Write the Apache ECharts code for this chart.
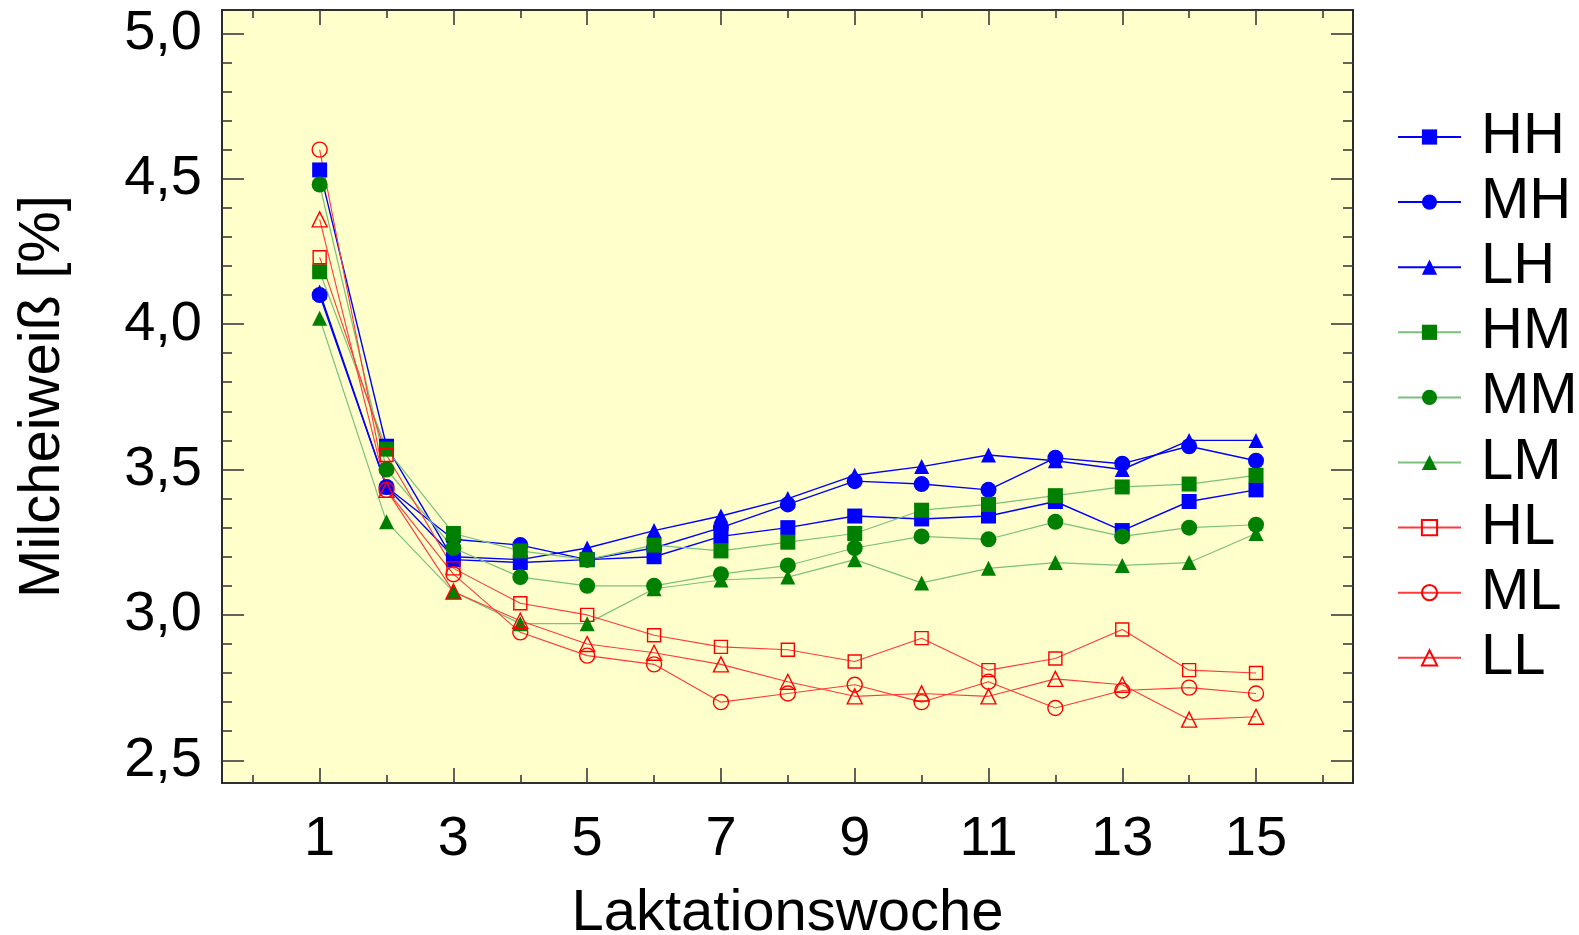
<!DOCTYPE html>
<html>
<head>
<meta charset="utf-8">
<script src="https://cdn.jsdelivr.net/npm/echarts@6/dist/echarts.min.js"></script>
<style>
  html, body { margin: 0; padding: 0; background: #ffffff; }
  #chart { width: 1579px; height: 935px; }
</style>
</head>
<body>
<div id="chart"></div>
<script>
// Laktationswochen 1–15
const weeks = [1, 2, 3, 4, 5, 6, 7, 8, 9, 10, 11, 12, 13, 14, 15];

// Milcheiweiß [%] je Gruppe
const HH = [4.53, 3.58, 3.19, 3.18, 3.19, 3.20, 3.27, 3.30, 3.34, 3.33, 3.34, 3.39, 3.29, 3.39, 3.43];
const MH = [4.10, 3.44, 3.26, 3.24, 3.19, 3.23, 3.30, 3.38, 3.46, 3.45, 3.43, 3.54, 3.52, 3.58, 3.53];
const LH = [4.11, 3.44, 3.20, 3.19, 3.23, 3.29, 3.34, 3.40, 3.48, 3.51, 3.55, 3.53, 3.50, 3.60, 3.60];
const HM = [4.18, 3.57, 3.28, 3.22, 3.19, 3.24, 3.22, 3.25, 3.28, 3.36, 3.38, 3.41, 3.44, 3.45, 3.48];
const MM = [4.48, 3.50, 3.23, 3.13, 3.10, 3.10, 3.14, 3.17, 3.23, 3.27, 3.26, 3.32, 3.27, 3.30, 3.31];
const LM = [4.02, 3.32, 3.08, 2.97, 2.97, 3.09, 3.12, 3.13, 3.19, 3.11, 3.16, 3.18, 3.17, 3.18, 3.28];
const HL = [4.23, 3.55, 3.16, 3.04, 3.00, 2.93, 2.89, 2.88, 2.84, 2.92, 2.81, 2.85, 2.95, 2.81, 2.80];
const ML = [4.60, 3.43, 3.14, 2.94, 2.86, 2.83, 2.70, 2.73, 2.76, 2.70, 2.77, 2.68, 2.74, 2.75, 2.73];
const LL = [4.36, 3.43, 3.08, 2.98, 2.90, 2.87, 2.83, 2.77, 2.72, 2.73, 2.72, 2.78, 2.76, 2.64, 2.65];

// Achsenbeschriftung
const xTickLabels = [1, 3, 5, 7, 9, 11, 13, 15];
const xMinorTicks = [0, 2, 4, 6, 8, 10, 12, 14, 16];
const yTickLabels = [2.5, 3.0, 3.5, 4.0, 4.5, 5.0];
const yMinorTicks = [2.6, 2.7, 2.8, 2.9, 3.1, 3.2, 3.3, 3.4, 3.6, 3.7, 3.8, 3.9, 4.1, 4.2, 4.3, 4.4, 4.6, 4.7, 4.8, 4.9];

const FONT = 'Liberation Sans, Arial, sans-serif';
const X_MIN = -0.46, X_MAX = 16.45;
const Y_MIN = 2.422, Y_MAX = 5.08;
const FRAME = '#222222';
const TICK = '#3a3a3a';

const BLUE = '#0000ff', GREEN = '#008000', RED = '#ff0000';
const GREEN_LINE = '#7cc07c', RED_LINE = '#ff3a3a';

function frameAxis(kind, position, ticks, len, withLabels) {
  const ax = {
    type: 'value',
    position: position,
    min: kind === 'x' ? X_MIN : Y_MIN,
    max: kind === 'x' ? X_MAX : Y_MAX,
    splitLine: { show: false },
    axisLine: { show: true, onZero: false, lineStyle: { color: FRAME, width: 1.6 } },
    axisTick: { show: true, inside: true, length: len, customValues: ticks, lineStyle: { color: TICK, width: 1.6 } },
    axisLabel: { show: false }
  };
  if (withLabels) {
    ax.axisLabel = {
      show: true,
      customValues: ticks,
      fontFamily: FONT,
      fontSize: 56,
      color: '#000',
      margin: kind === 'x' ? 29 : 20,
      formatter: kind === 'x' ? (v) => String(v) : (v) => v.toFixed(1).replace('.', ',')
    };
  }
  return ax;
}

const xMain = frameAxis('x', 'bottom', xTickLabels, 15, true);
xMain.name = 'Laktationswoche';
xMain.nameLocation = 'middle';
xMain.nameGap = 102;
xMain.nameTextStyle = { fontFamily: FONT, fontSize: 58, color: '#000' };

const yMain = frameAxis('y', 'left', yTickLabels, 22, true);
yMain.name = 'Milcheiweiß [%]';
yMain.nameLocation = 'middle';
yMain.nameGap = 150;
yMain.nameRotate = 90;
yMain.nameTextStyle = { fontFamily: FONT, fontSize: 58, color: '#000' };

const xAxes = [
  xMain,
  frameAxis('x', 'bottom', xMinorTicks, 8, false),
  frameAxis('x', 'top', xTickLabels, 15, false),
  frameAxis('x', 'top', xMinorTicks, 8, false)
];
const yAxes = [
  yMain,
  frameAxis('y', 'left', yMinorTicks, 10, false),
  frameAxis('y', 'right', yTickLabels, 22, false),
  frameAxis('y', 'right', yMinorTicks, 10, false)
];

function mkSeries(name, values, symbol, size, color, lineColor, lineWidth, hollow) {
  return {
    name: name,
    type: 'line',
    xAxisIndex: 0,
    yAxisIndex: 0,
    data: weeks.map((w, i) => [w, values[i]]),
    symbol: symbol,
    symbolSize: size,
    showAllSymbol: true,
    animation: false,
    lineStyle: { color: lineColor, width: lineWidth },
    itemStyle: hollow
      ? { color: 'rgba(0,0,0,0)', borderColor: color, borderWidth: 1.4 }
      : { color: color, borderWidth: 0 },
    emphasis: { disabled: true }
  };
}

const series = [
  mkSeries('HH', HH, 'rect', 15, BLUE, BLUE, 1.4, false),
  mkSeries('MH', MH, 'circle', 16, BLUE, BLUE, 1.4, false),
  mkSeries('LH', LH, 'triangle', [15, 15], BLUE, BLUE, 1.4, false),
  mkSeries('HM', HM, 'rect', 15, GREEN, GREEN_LINE, 1.2, false),
  mkSeries('MM', MM, 'circle', 16, GREEN, GREEN_LINE, 1.2, false),
  mkSeries('LM', LM, 'triangle', [15, 15], GREEN, GREEN_LINE, 1.2, false),
  mkSeries('HL', HL, 'rect', 13, RED, RED_LINE, 1.1, true),
  mkSeries('ML', ML, 'circle', 15, RED, RED_LINE, 1.1, true),
  mkSeries('LL', LL, 'triangle', [15, 15], RED, RED_LINE, 1.1, true)
];

const chart = echarts.init(document.getElementById('chart'), null, { renderer: 'canvas' });
chart.setOption({
  animation: false,
  backgroundColor: '#ffffff',
  grid: {
    left: 222, top: 10, width: 1131, height: 773,
    containLabel: false,
    outerBoundsMode: 'none',
    show: true, backgroundColor: '#ffffcc', borderWidth: 0
  },
  legend: {
    orient: 'vertical',
    left: 1397,
    top: 108,
    padding: 0,
    itemWidth: 63,
    itemHeight: 19,
    itemGap: 7.1,
    selectedMode: false,
    data: ['HH', 'MH', 'LH', 'HM', 'MM', 'LM', 'HL', 'ML', 'LL'],
    textStyle: { fontFamily: FONT, fontSize: 58, color: '#000', lineHeight: 40, padding: [0, 0, 0, 15] }
  },
  tooltip: { show: false },
  xAxis: xAxes,
  yAxis: yAxes,
  series: series
});
</script>
</body>
</html>
